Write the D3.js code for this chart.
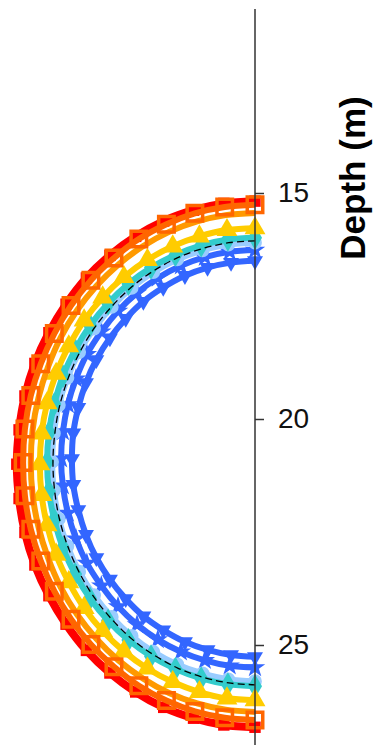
<!DOCTYPE html>
<html><head><meta charset="utf-8">
<script src="https://cdn.jsdelivr.net/npm/d3@7"></script>
<style>html,body{margin:0;padding:0;background:#fff;}svg{display:block;}</style>
</head><body><svg id="c" width="379" height="745"></svg>
<script>
// Depth (m) values and horizontal offsets (m), 25 points per ring
const redX = [0,-0.69,-1.36,-2.02,-2.64,-3.21,-3.73,-4.18,-4.56,-4.87,-5.09,-5.22,-5.27,-5.22,-5.09,-4.87,-4.56,-4.18,-3.73,-3.21,-2.64,-2.02,-1.36,-0.69,0];
const redD = [15.18,15.23,15.38,15.62,15.96,16.38,16.88,17.46,18.09,18.77,19.49,20.24,21.00,21.76,22.51,23.23,23.91,24.54,25.12,25.62,26.04,26.38,26.62,26.77,26.82];
const orangeSqX = [0,-0.67,-1.33,-1.96,-2.57,-3.12,-3.63,-4.07,-4.44,-4.74,-4.96,-5.09,-5.13,-5.09,-4.96,-4.74,-4.44,-4.07,-3.63,-3.12,-2.57,-1.96,-1.33,-0.67,0];
const orangeSqD = [15.26,15.31,15.45,15.69,16.02,16.44,16.93,17.49,18.11,18.78,19.48,20.22,20.96,21.70,22.44,23.14,23.81,24.43,24.99,25.48,25.90,26.23,26.47,26.61,26.66];
const orangeX = [0,-0.65,-1.28,-1.90,-2.48,-3.02,-3.51,-3.94,-4.30,-4.58,-4.79,-4.92,-4.96,-4.92,-4.79,-4.58,-4.30,-3.94,-3.51,-3.02,-2.48,-1.90,-1.28,-0.65,0];
const orangeD = [15.44,15.49,15.63,15.86,16.18,16.58,17.06,17.60,18.20,18.85,19.53,20.24,20.96,21.68,22.39,23.07,23.72,24.32,24.86,25.34,25.74,26.06,26.29,26.43,26.48];
const yellowX = [0,-0.62,-1.23,-1.82,-2.38,-2.90,-3.37,-3.78,-4.12,-4.40,-4.60,-4.72,-4.76,-4.72,-4.60,-4.40,-4.12,-3.78,-3.37,-2.90,-2.38,-1.82,-1.23,-0.62,0];
const yellowD = [15.78,15.82,15.96,16.18,16.48,16.86,17.31,17.82,18.39,19.00,19.65,20.32,21.00,21.68,22.35,23.00,23.61,24.18,24.69,25.14,25.52,25.82,26.04,26.18,26.22];
const cyanX = [0,-0.60,-1.19,-1.76,-2.30,-2.80,-3.25,-3.65,-3.98,-4.25,-4.44,-4.56,-4.60,-4.56,-4.44,-4.25,-3.98,-3.65,-3.25,-2.80,-2.30,-1.76,-1.19,-0.60,0];
const cyanD = [15.99,16.03,16.16,16.37,16.65,17.01,17.44,17.93,18.47,19.05,19.67,20.30,20.95,21.60,22.23,22.85,23.43,23.97,24.46,24.89,25.25,25.53,25.74,25.87,25.91];
const lightBlueX = [0,-0.59,-1.16,-1.72,-2.25,-2.73,-3.17,-3.56,-3.89,-4.15,-4.34,-4.45,-4.49,-4.45,-4.34,-4.15,-3.89,-3.56,-3.17,-2.73,-2.25,-1.72,-1.16,-0.59,0];
const lightBlueD = [16.10,16.14,16.27,16.47,16.75,17.10,17.52,18.00,18.52,19.09,19.69,20.32,20.95,21.58,22.21,22.81,23.38,23.90,24.38,24.80,25.15,25.43,25.63,25.76,25.80];
const blackX = [0,-0.58,-1.16,-1.71,-2.24,-2.72,-3.16,-3.55,-3.87,-4.13,-4.32,-4.43,-4.47,-4.43,-4.32,-4.13,-3.87,-3.55,-3.16,-2.72,-2.24,-1.71,-1.16,-0.58,0];
const blackD = [16.06,16.10,16.23,16.43,16.72,17.07,17.50,17.98,18.51,19.09,19.70,20.33,20.97,21.61,22.24,22.85,23.43,23.96,24.44,24.87,25.22,25.51,25.71,25.84,25.88];
const blue1X = [0,-0.56,-1.11,-1.64,-2.15,-2.61,-3.03,-3.40,-3.72,-3.96,-4.14,-4.25,-4.29,-4.25,-4.14,-3.96,-3.72,-3.40,-3.03,-2.61,-2.15,-1.64,-1.11,-0.56,0];
const blue1D = [16.26,16.30,16.42,16.61,16.88,17.21,17.61,18.07,18.57,19.11,19.68,20.28,20.88,21.48,22.08,22.65,23.19,23.69,24.15,24.55,24.88,25.15,25.34,25.46,25.50];
const blue2X = [0,-0.53,-1.05,-1.55,-2.03,-2.47,-2.86,-3.21,-3.51,-3.74,-3.91,-4.02,-4.05,-4.02,-3.91,-3.74,-3.51,-3.21,-2.86,-2.47,-2.03,-1.55,-1.05,-0.53,0];
const blue2D = [16.50,16.54,16.65,16.83,17.09,17.40,17.78,18.21,18.69,19.20,19.75,20.31,20.88,21.45,22.01,22.56,23.07,23.55,23.98,24.36,24.67,24.93,25.11,25.22,25.26];
const depthTicks = [15, 20, 25];
const axisTitle = "Depth (m)";

const series = [
  {name:"red", xs:redX, ds:redD, color:"#ff0000", w:8, marker:"sq", size:130, fill:"#ff0000", mstroke:"none", msw:0},
  {name:"blue2", xs:blue2X, ds:blue2D, color:"#3366ff", w:6, marker:"tri", size:110, fill:"#3366ff", mstroke:"none", msw:0},
  {name:"blue1", xs:blue1X, ds:blue1D, color:"#3366ff", w:6, marker:"star", size:130, fill:"#3366ff", mstroke:"none", msw:0},
  {name:"lightblue", xs:lightBlueX, ds:lightBlueD, color:"#99ccff", w:6, marker:"circle", size:150, fill:"#99ccff", mstroke:"none", msw:0},
  {name:"cyan", xs:cyanX, ds:cyanD, color:"#33cccc", w:6, marker:"diamond", size:170, fill:"#33cccc", mstroke:"none", msw:0},
  {name:"black", xs:blackX, ds:blackD, color:"#000000", w:1.3, dash:"7,4", marker:null},
  {name:"yellow", xs:yellowX, ds:yellowD, color:"#ffcc00", w:6, marker:"triup", size:190, fill:"#ffcc00", mstroke:"none", msw:0},
  {name:"orange", xs:orangeX, ds:orangeD, color:"#ff9900", w:6, marker:null},
  {name:"orangeSq", xs:orangeSqX, ds:orangeSqD, color:"#ff6600", w:6, marker:"sq", size:240, fill:"none", mstroke:"#ff6600", msw:3.5}
];

const svg = d3.select("#c");
const y = d3.scaleLinear().domain([15, 25]).range([193, 645]);
const x = d3.scaleLinear().domain([-6, 0]).range([255 - 6*45.2, 255]);

const line = d3.line().x(d => x(d[0])).y(d => y(d[1])).curve(d3.curveCatmullRom);
const symMap = {sq:d3.symbolSquare, circle:d3.symbolCircle, diamond:d3.symbolDiamond, triup:d3.symbolTriangle, tri:d3.symbolTriangle, star:d3.symbolStar};

series.forEach(s => {
  const pts = s.xs.map((v,i) => [v, s.ds[i]]);
  const g = svg.append("g");
  g.append("path").attr("d", line(pts)).attr("fill","none").attr("stroke", s.color)
    .attr("stroke-width", s.w).attr("stroke-dasharray", s.dash || null).attr("stroke-linejoin","round");
  if (s.marker) {
    g.selectAll("path.m").data(pts).join("path").attr("class","m")
      .attr("d", d3.symbol().type(symMap[s.marker]).size(s.size))
      .attr("transform", d => `translate(${x(d[0])},${y(d[1])})` + (s.marker==="tri" ? " rotate(180)" : ""))
      .attr("fill", s.fill).attr("stroke", s.mstroke).attr("stroke-width", s.msw);
  }
});

// axis
const axisG = svg.append("g").attr("transform", "translate(255,0)");
axisG.append("line").attr("x1",0).attr("x2",0).attr("y1", 9).attr("y2", 745).attr("stroke","#333").attr("stroke-width",1.5);
axisG.call(d3.axisRight(y).tickValues(depthTicks).tickSize(9).tickPadding(14).tickFormat(d3.format("d")));
axisG.select(".domain").remove();
axisG.selectAll(".tick line").attr("stroke","#333").attr("stroke-width",1.5);
axisG.selectAll(".tick text").attr("font-family","Liberation Sans, Arial, sans-serif").attr("font-size",28).attr("fill","#111");

svg.append("text").attr("transform","translate(365,178) rotate(-90)").attr("text-anchor","middle")
  .attr("font-family","Liberation Sans, Arial, sans-serif").attr("font-weight","bold").attr("font-size",35)
  .attr("fill","#000").text(axisTitle);
</script></body></html>
